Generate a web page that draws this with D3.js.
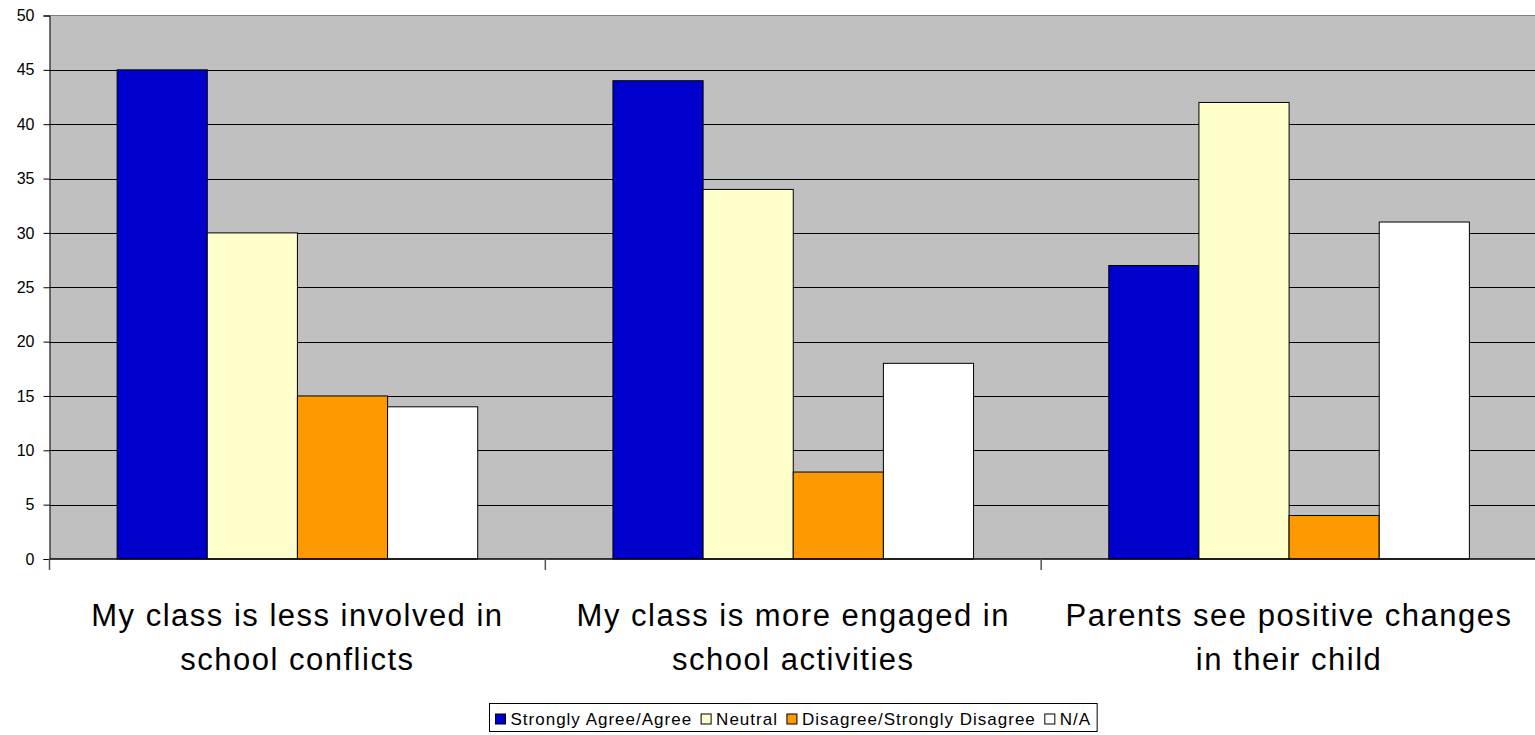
<!DOCTYPE html>
<html>
<head>
<meta charset="utf-8">
<script src="https://cdn.jsdelivr.net/npm/d3@7"></script>
<style>
  body { margin: 0; background: #fff; }
  svg { display: block; font-family: "Liberation Sans", Arial, sans-serif; }
</style>
</head>
<body>
<svg id="chart" width="1535" height="735"></svg>
<script>
// categories (two lines each) and series
let categories = [
  ["My class is less involved in", "school conflicts"],
  ["My class is more engaged in", "school activities"],
  ["Parents see positive changes", "in their child"]
];
let seriesNames = ["Strongly Agree/Agree", "Neutral", "Disagree/Strongly Disagree", "N/A"];
let agree    = [45, 44, 27];
let neutral  = [30, 34, 42];
let disagree = [15, 8, 4];
let na       = [14, 18, 31];
let yTicks = [0, 5, 10, 15, 20, 25, 30, 35, 40, 45, 50];

let colors = ["#0000CC", "#FFFFCC", "#FF9900", "#FFFFFF"];
let series = [agree, neutral, disagree, na];

let plotLeft = 49.5, plotRight = 1537, plotTop = 15.5, plotBottom = 559;

let svg = d3.select("#chart");

let x0 = d3.scaleBand()
  .domain(d3.range(categories.length))
  .range([plotLeft, plotRight])
  .paddingInner(0).paddingOuter(0);

// gap width 150% -> 1.5 bar widths of padding
let x1 = d3.scaleBand()
  .domain(d3.range(seriesNames.length))
  .range([0, x0.bandwidth()])
  .paddingInner(0)
  .paddingOuter(0.75);

let y = d3.scaleLinear().domain([0, 50]).range([plotBottom, plotTop]);

// plot background
svg.append("rect")
  .attr("x", plotLeft).attr("y", plotTop)
  .attr("width", plotRight - plotLeft).attr("height", plotBottom - plotTop)
  .attr("fill", "#C0C0C0");

// gridlines
svg.append("g")
  .selectAll("line")
  .data(yTicks.filter(d => d > 0 && d < 50))
  .join("line")
  .attr("x1", plotLeft).attr("x2", plotRight)
  .attr("y1", d => Math.round(y(d)) + 0.5).attr("y2", d => Math.round(y(d)) + 0.5)
  .attr("stroke", "#000").attr("stroke-width", 1);

// top border of plot
svg.append("line")
  .attr("x1", plotLeft).attr("x2", plotRight)
  .attr("y1", plotTop).attr("y2", plotTop)
  .attr("stroke", "#808080").attr("stroke-width", 1);

// bars
let groups = svg.append("g")
  .selectAll("g")
  .data(categories.map((c, i) => i))
  .join("g")
  .attr("transform", i => `translate(${x0(i)},0)`);

groups.selectAll("rect")
  .data(i => series.map((s, k) => ({ k: k, v: s[i] })))
  .join("rect")
  .attr("x", d => x1(d.k))
  .attr("y", d => y(d.v))
  .attr("width", x1.bandwidth())
  .attr("height", d => y(0) - y(d.v))
  .attr("fill", d => colors[d.k])
  .attr("stroke", "#000")
  .attr("stroke-width", 1);

// y axis
let yAxis = d3.axisLeft(y).tickValues(yTicks).tickSize(6).tickPadding(9);
let gy = svg.append("g")
  .attr("transform", `translate(${plotLeft},0)`)
  .call(yAxis);
gy.select(".domain").attr("stroke", "#000");
gy.selectAll(".tick line").attr("stroke", "#000");
gy.selectAll(".tick text")
  .attr("font-size", 16)
  .attr("fill", "#000")
  .style("font-family", "Liberation Sans, Arial, sans-serif");

// x axis baseline and category separators
svg.append("line")
  .attr("x1", plotLeft).attr("x2", plotRight)
  .attr("y1", plotBottom).attr("y2", plotBottom)
  .attr("stroke", "#000").attr("stroke-width", 1.5);

svg.append("g")
  .selectAll("line")
  .data(d3.range(categories.length + 1))
  .join("line")
  .attr("x1", i => i < categories.length ? x0(i) : plotRight)
  .attr("x2", i => i < categories.length ? x0(i) : plotRight)
  .attr("y1", plotBottom).attr("y2", plotBottom + 11)
  .attr("stroke", "#555").attr("stroke-width", 1.5);

// category labels
let labels = svg.append("g")
  .selectAll("text")
  .data(categories)
  .join("text")
  .attr("text-anchor", "middle")
  .attr("font-size", 31)
  .attr("letter-spacing", 1.5)
  .attr("fill", "#000");

labels.selectAll("tspan")
  .data((d, i) => d.map(line => ({ line: line, i: i })))
  .join("tspan")
  .attr("x", d => x0(d.i) + x0.bandwidth() / 2)
  .attr("y", (d, j) => 626 + j * 44)
  .text(d => d.line);

// legend, centred under the plot
let legend = svg.append("g");
let legendBox = legend.append("rect")
  .attr("x", 0).attr("y", 0)
  .attr("height", 28)
  .attr("fill", "#fff").attr("stroke", "#000");

let lx = 6;
seriesNames.forEach((name, k) => {
  legend.append("rect")
    .attr("x", lx).attr("y", 10.5)
    .attr("width", 10).attr("height", 10)
    .attr("fill", colors[k]).attr("stroke", "#000");
  let t = legend.append("text")
    .attr("x", lx + 15).attr("y", 21)
    .attr("font-size", 17)
    .attr("letter-spacing", 1)
    .attr("fill", "#000")
    .text(name);
  lx += 15 + t.node().getComputedTextLength() + 9;
});
let legendW = lx - 3;
legendBox.attr("width", legendW);
let legendX = Math.round((plotLeft + plotRight) / 2 - legendW / 2) + 0.5;
legend.attr("transform", `translate(${legendX},703.5)`);
</script>
</body>
</html>
